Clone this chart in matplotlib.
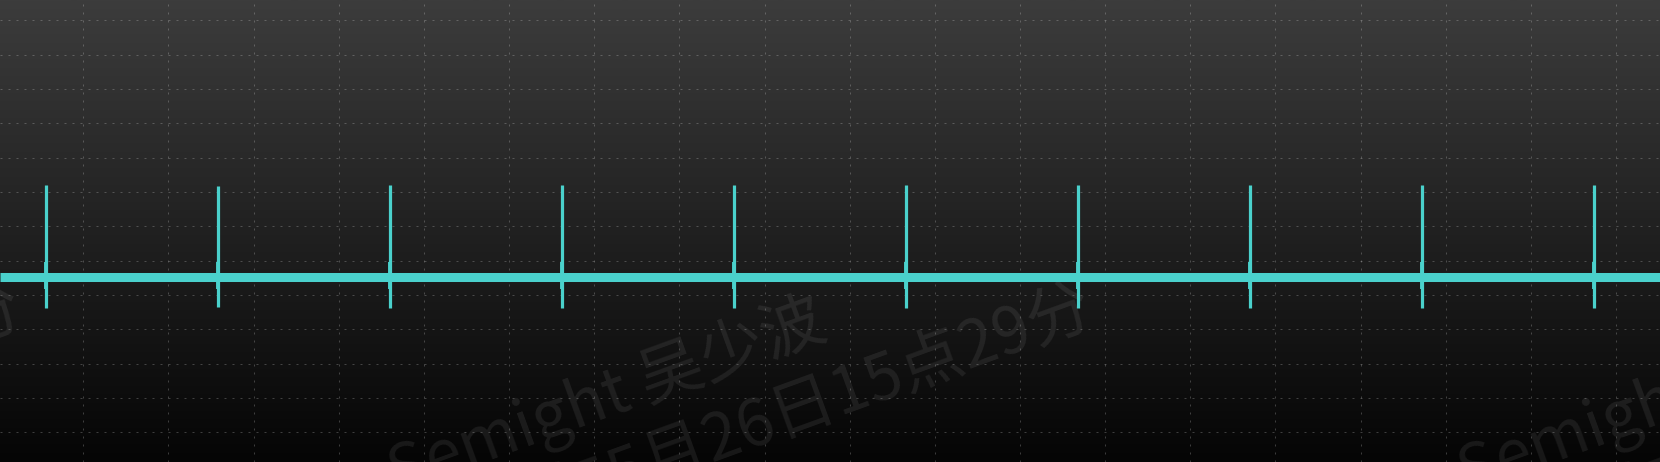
import numpy as np
import matplotlib
matplotlib.use("Agg")
import matplotlib.pyplot as plt
from matplotlib.colors import LinearSegmentedColormap

# Scope trace in grid divisions (x: time div, y: volt div)
spike_times = [-0.438, 1.582, 3.602, 5.625, 7.642, 9.662, 11.685, 13.702, 15.722, 17.738]
spike_peaks = [1.20, 1.18, 1.20, 1.20, 1.20, 1.20, 1.20, 1.20, 1.20, 1.20]
spike_troughs = [-2.37, -2.35, -2.37, -2.37, -2.37, -2.37, -2.37, -2.37, -2.37, -2.37]
baseline_level = -1.485

# Grid divisions shown on the screen
x_divs = list(range(0, 19))
y_divs = list(range(-6, 7))

# Watermark text
wm_line1 = "Semight 吴少波"
wm_line2 = "2023年5月26日15点29分"

trace_color = "#4ad1cc"
W, H = 1660, 462

fig = plt.figure(figsize=(W / 100, H / 100), dpi=100)
ax = fig.add_axes([0, 0, 1, 1])

# Visible window of the screen (in divisions)
x0, x1 = -83.3 / 85.15, (W - 83.3) / 85.15
y1 = 6 + 20.5 / 34.3
y0 = 6 - (H - 20.5) / 34.3
ax.set_xlim(x0, x1)
ax.set_ylim(y0, y1)

# Dark vertical gradient background
cmap = LinearSegmentedColormap.from_list("bg", ["#050505", "#3c3c3c"])
grad = np.linspace(0, 1, 256).reshape(-1, 1)
ax.imshow(grad, extent=[x0, x1, y0, y1], origin="lower", aspect="auto",
          cmap=cmap, zorder=0, interpolation="bilinear")

# Dotted graticule
ax.set_xticks(x_divs)
ax.set_yticks(y_divs)
ax.grid(True, color="white", alpha=0.22, linewidth=0.72, linestyle=(0, (2, 6)))
ax.tick_params(length=0, labelbottom=False, labelleft=False)
for s in ax.spines.values():
    s.set_visible(False)

# Watermark, tiled horizontally
font = ["Noto Sans CJK SC", "DejaVu Sans"]
for dx in [-1070, 0, 1070]:
    for txt, (px, py) in [(wm_line1, (391, 475.7)), (wm_line2, (416, 550.5))]:
        ax.text((px + dx) / W, 1 - py / H, txt, transform=ax.transAxes,
                fontsize=46.5, family=font, color="white", alpha=0.078,
                rotation=20, rotation_mode="anchor", ha="left", va="center",
                zorder=2, clip_on=True)

# Trace: baseline band and the glitches
ax.hlines(baseline_level, x0, x1, color=trace_color, linewidth=6.5, zorder=3)
ax.vlines(spike_times, spike_troughs, spike_peaks, color=trace_color,
          linewidth=2.3, zorder=3)
ax.vlines(spike_times, baseline_level - 0.35, baseline_level + 0.45,
          color=trace_color, linewidth=2.8, zorder=3)

fig.savefig("out.png", dpi=100)
